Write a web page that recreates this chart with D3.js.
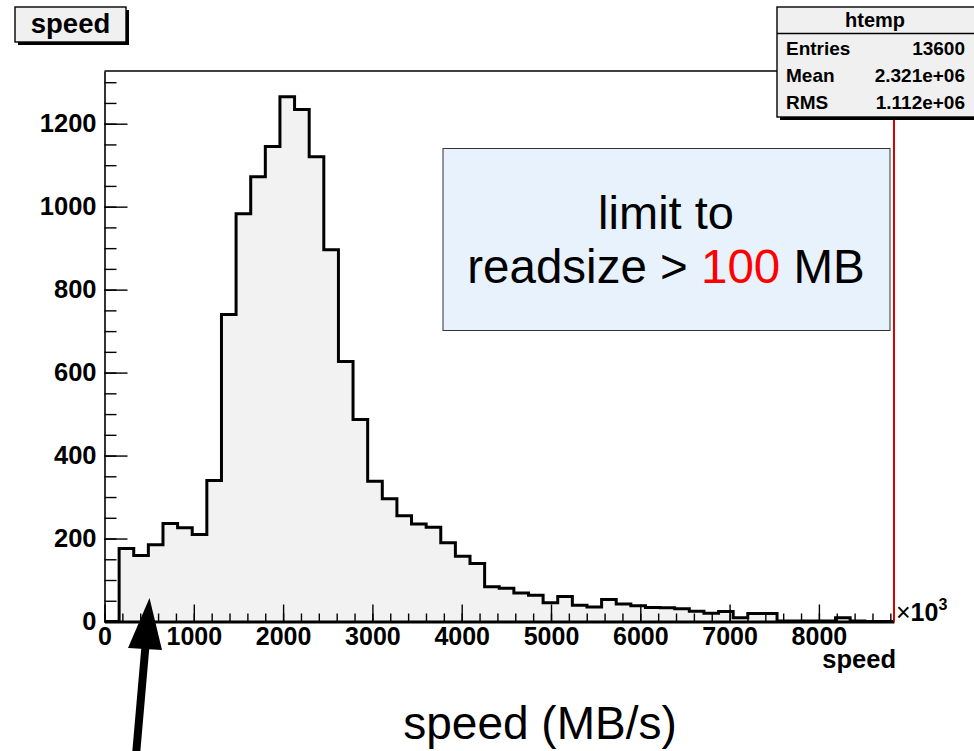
<!DOCTYPE html>
<html>
<head>
<meta charset="utf-8">
<script src="https://cdn.jsdelivr.net/npm/d3@7/dist/d3.min.js"></script>
<style>
  html, body { margin: 0; padding: 0; background: #fff; }
  svg { display: block; font-family: "Liberation Sans", Arial, Helvetica, sans-serif; }
</style>
</head>
<body>
<svg id="chart" width="974" height="751"></svg>
<script>
// ---------------- data ----------------
const xMin = 0;
const xMax = 8841;          // axis end (x10^3)
const nBins = 54;
const counts = [
  0, 176, 159, 185, 236, 226, 210, 340, 740, 983,
  1072, 1145, 1265, 1234, 1120, 896, 627, 487, 338, 296,
  255, 235, 227, 190, 157, 140, 84, 80, 69, 63,
  45, 60, 39, 35, 53, 42, 38, 34, 33, 31,
  25, 20, 24, 9, 19, 19, 1, 1, 1, 1,
  9, 1, 0, 0
];
const yMax = 1327;
const yTickValues = [0, 200, 400, 600, 800, 1000, 1200];
const yMinorValues = d3.range(0, 1301, 50);
const xTickValues = [0, 1000, 2000, 3000, 4000, 5000, 6000, 7000, 8000];
const xMinorValues = d3.range(0, 8801, 200);
const statsRows = [["Entries", "13600"], ["Mean", "2.321e+06"], ["RMS", "1.112e+06"]];
const histName = "htemp";
const titleText = "speed";
const xTitle = "speed";
const noteLine1 = "limit to";
const noteLine2 = ["readsize > ", "100", " MB"];
const bottomLabel = "speed (MB/s)";

// ---------------- layout ----------------
const svg = d3.select("#chart");
const F = "'Liberation Sans', Arial, Helvetica, sans-serif";
const plot = { left: 104.5, right: 894, top: 71, bottom: 621.5 };

const x = d3.scaleLinear().domain([xMin, xMax]).range([plot.left, plot.right]);
const y = d3.scaleLinear().domain([0, yMax]).range([plot.bottom, plot.top]);

const binW = (xMax - xMin) / nBins;
const steps = [];
counts.forEach((c, i) => {
  steps.push([xMin + i * binW, c]);
  steps.push([xMin + (i + 1) * binW, c]);
});
const pts = [[xMin, 0], ...steps, [xMax, 0]];

// fill
svg.append("path")
  .attr("d", d3.area().x(d => x(d[0])).y0(y(0)).y1(d => y(d[1]))(pts))
  .attr("fill", "#f2f2f2");

// outline
svg.append("path")
  .attr("d", d3.line().x(d => x(d[0])).y(d => y(d[1]))(pts))
  .attr("fill", "none")
  .attr("stroke", "#000")
  .attr("stroke-width", 3)
  .attr("stroke-linejoin", "miter");

// frame top
svg.append("line")
  .attr("x1", plot.left).attr("x2", plot.right)
  .attr("y1", plot.top).attr("y2", plot.top)
  .attr("stroke", "#000").attr("stroke-width", 1.4);

// y axis
const yMinorAxis = d3.axisLeft(y).tickValues(yMinorValues).tickSize(-12).tickSizeOuter(0).tickFormat("");
svg.append("g").attr("transform", `translate(${plot.left},0)`).call(yMinorAxis)
  .call(g => g.selectAll("line").attr("stroke", "#000").attr("stroke-width", 1.4))
  .call(g => g.select(".domain").attr("stroke", "#000").attr("stroke-width", 1.6));
const yAxis = d3.axisLeft(y).tickValues(yTickValues).tickSize(-23).tickSizeOuter(0).tickPadding(8).tickFormat(d3.format("d"));
svg.append("g").attr("transform", `translate(${plot.left},0)`).call(yAxis)
  .call(g => g.select(".domain").remove())
  .call(g => g.selectAll("line").attr("stroke", "#000").attr("stroke-width", 1.4))
  .call(g => g.selectAll("text").attr("font-family", F).attr("font-size", 25.5).attr("font-weight", "bold").attr("fill", "#000"));

// x axis
const xMinorAxis = d3.axisBottom(x).tickValues(xMinorValues).tickSize(-8).tickSizeOuter(0).tickFormat("");
svg.append("g").attr("transform", `translate(0,${plot.bottom})`).call(xMinorAxis)
  .call(g => g.selectAll("line").attr("stroke", "#000").attr("stroke-width", 1.4))
  .call(g => g.select(".domain").attr("stroke", "#000").attr("stroke-width", 3));
const xAxis = d3.axisBottom(x).tickValues(xTickValues).tickSize(-17).tickSizeOuter(0).tickPadding(6).tickFormat(d3.format("d"));
svg.append("g").attr("transform", `translate(0,${plot.bottom})`).call(xAxis)
  .call(g => g.select(".domain").remove())
  .call(g => g.selectAll("line").attr("stroke", "#000").attr("stroke-width", 1.4))
  .call(g => g.selectAll("text").attr("font-family", F).attr("font-size", 25).attr("font-weight", "bold").attr("fill", "#000"));

// x10^3
const mult = svg.append("text").attr("x", plot.right + 2).attr("y", 621).attr("font-family", F).attr("fill", "#000");
mult.append("tspan").attr("font-size", 25).text("\u00d7");
mult.append("tspan").attr("font-size", 25).attr("font-weight", "bold").text("10");
mult.append("tspan").attr("font-size", 16).attr("font-weight", "bold").attr("dy", -11).text("3");

// x title
svg.append("text").attr("x", 896).attr("y", 668).attr("text-anchor", "end")
  .attr("font-family", F).attr("font-size", 25.5).attr("font-weight", "bold").text(xTitle);

// red line at right edge
svg.append("line")
  .attr("x1", plot.right).attr("x2", plot.right)
  .attr("y1", plot.top).attr("y2", plot.bottom)
  .attr("stroke", "#d80000").attr("stroke-width", 2);

// stats box
const sb = { x: 777, y: 7, w: 200, h: 110 };
svg.append("rect").attr("x", sb.x + 3).attr("y", sb.y + 3).attr("width", sb.w).attr("height", sb.h).attr("fill", "#000");
svg.append("rect").attr("x", sb.x).attr("y", sb.y).attr("width", sb.w).attr("height", sb.h)
  .attr("fill", "#f0f0f0").attr("stroke", "#000").attr("stroke-width", 1.4);
svg.append("line").attr("x1", sb.x).attr("x2", sb.x + sb.w).attr("y1", 33.5).attr("y2", 33.5)
  .attr("stroke", "#000").attr("stroke-width", 1.4);
svg.append("text").attr("x", 875).attr("y", 27).attr("text-anchor", "middle")
  .attr("font-family", F).attr("font-size", 20).attr("font-weight", "bold").text(histName);
statsRows.forEach((r, i) => {
  const yy = 55 + i * 27;
  svg.append("text").attr("x", 786).attr("y", yy).attr("font-family", F)
    .attr("font-size", 19).attr("font-weight", "bold").text(r[0]);
  svg.append("text").attr("x", 965).attr("y", yy).attr("text-anchor", "end").attr("font-family", F)
    .attr("font-size", 19).attr("font-weight", "bold").text(r[1]);
});

// title box
const tb = { x: 15, y: 7, w: 111, h: 35 };
svg.append("rect").attr("x", tb.x + 3).attr("y", tb.y + 3).attr("width", tb.w).attr("height", tb.h).attr("fill", "#000");
svg.append("rect").attr("x", tb.x).attr("y", tb.y).attr("width", tb.w).attr("height", tb.h)
  .attr("fill", "#f0f0f0").attr("stroke", "#000").attr("stroke-width", 1.4);
svg.append("text").attr("x", tb.x + tb.w / 2).attr("y", 33).attr("text-anchor", "middle")
  .attr("font-family", F).attr("font-size", 27.5).attr("font-weight", "bold").text(titleText);

// annotation box
svg.append("rect").attr("x", 443).attr("y", 148.5).attr("width", 447).attr("height", 182)
  .attr("fill", "#e8f2fd").attr("stroke", "#333").attr("stroke-width", 1);
svg.append("text").attr("x", 666).attr("y", 229).attr("text-anchor", "middle")
  .attr("font-family", F).attr("font-size", 47).text(noteLine1);
const l2 = svg.append("text").attr("x", 666).attr("y", 283).attr("text-anchor", "middle")
  .attr("font-family", F).attr("font-size", 47.5);
l2.append("tspan").text(noteLine2[0]);
l2.append("tspan").attr("fill", "#ff0000").text(noteLine2[1]);
l2.append("tspan").text(noteLine2[2]);

// bottom label
svg.append("text").attr("x", 540).attr("y", 739).attr("text-anchor", "middle")
  .attr("font-family", F).attr("font-size", 46).text(bottomLabel);

// arrow
svg.append("line").attr("x1", 136).attr("y1", 755).attr("x2", 146).attr("y2", 640)
  .attr("stroke", "#000").attr("stroke-width", 8);
svg.append("path").attr("d", "M149.5,598 L128,648 L162,650 Z").attr("fill", "#000");
</script>
</body>
</html>
